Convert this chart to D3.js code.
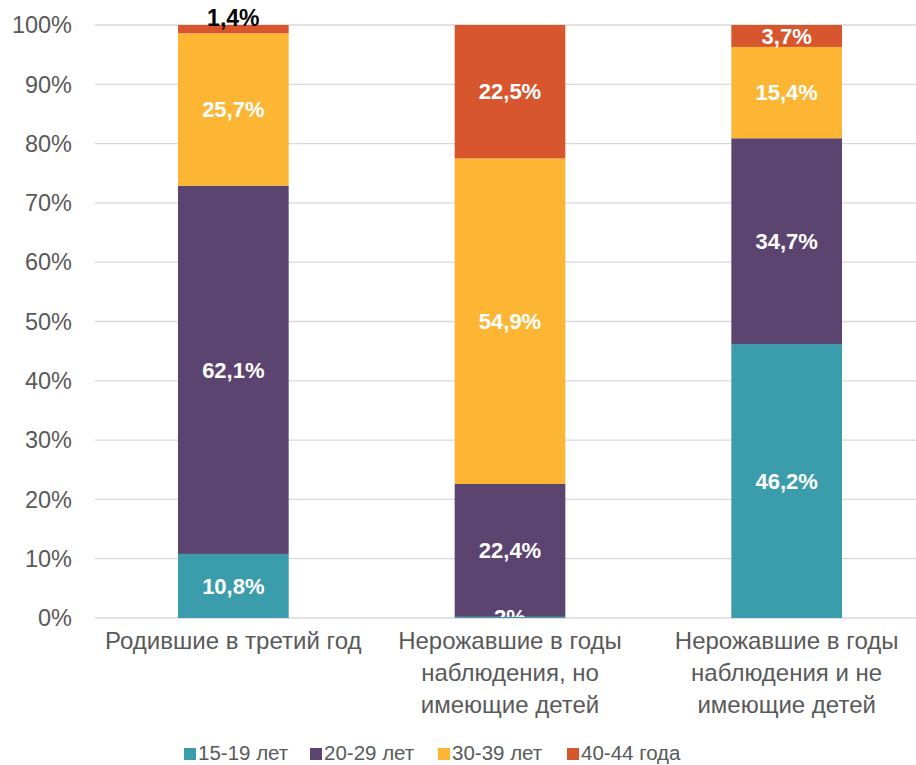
<!DOCTYPE html>
<html><head><meta charset="utf-8">
<script src="https://cdn.jsdelivr.net/npm/d3@7"></script>
<style>body{margin:0;background:#fff}svg{display:block}</style>
</head><body><svg id="c" width="916" height="765"></svg>
<script>
const categories = [
  ["Родившие в третий год"],
  ["Нерожавшие в годы", "наблюдения, но", "имеющие детей"],
  ["Нерожавшие в годы", "наблюдения и не", "имеющие детей"]
];
const seriesNames = ["15-19 лет", "20-29 лет", "30-39 лет", "40-44 года"];
const s1519 = [10.8, 0.2, 46.2];
const s2029 = [62.1, 22.4, 34.7];
const s3039 = [25.7, 54.9, 15.4];
const s4044 = [1.4, 22.5, 3.7];
const labelText = [
  ["10,8%", "2%", "46,2%"],
  ["62,1%", "22,4%", "34,7%"],
  ["25,7%", "54,9%", "15,4%"],
  ["1,4%", "22,5%", "3,7%"]
];
const yTicks = [0, 10, 20, 30, 40, 50, 60, 70, 80, 90, 100];
const colors = ["#3B9DAB", "#5C4470", "#FDB634", "#D8562D"];

const svg = d3.select("#c");
const font = "'Liberation Sans', Arial, sans-serif";
const L = 95, R = 925, T = 25, B = 618;
const x = d3.scaleBand().domain(d3.range(categories.length)).range([L, R]).padding(0);
const y = d3.scaleLinear().domain([0, 100]).range([B, T]);
const bw = x.bandwidth() * 0.4;

// gridlines
svg.append("g").selectAll("line").data(yTicks).join("line")
  .attr("x1", L).attr("x2", R)
  .attr("y1", d => y(d)).attr("y2", d => y(d))
  .attr("stroke", "#d9d9d9").attr("stroke-width", 1.3);

// y labels
svg.append("g").selectAll("text").data(yTicks).join("text")
  .attr("x", 72).attr("y", d => y(d)).attr("dy", "0.35em")
  .attr("text-anchor", "end").attr("font-family", font).attr("font-size", 23.5)
  .attr("fill", "#595959").text(d => d + "%");

const series = [s1519, s2029, s3039, s4044];
const data = categories.map((c, i) => {
  const o = {i};
  series.forEach((s, k) => o[k] = s[i]);
  return o;
});
const stack = d3.stack().keys(d3.range(series.length))(data);

svg.append("clipPath").attr("id", "pc").append("rect")
  .attr("x", 0).attr("y", 0).attr("width", 916).attr("height", B - 1);

const gb = svg.append("g");
stack.forEach((layer, k) => {
  gb.selectAll(null).data(layer).join("rect")
    .attr("x", (d, i) => x(i) + x.bandwidth() / 2 - bw / 2)
    .attr("width", bw)
    .attr("y", d => y(d[1]))
    .attr("height", d => y(d[0]) - y(d[1]))
    .attr("fill", colors[k]);
});

const gl = svg.append("g").attr("clip-path", "url(#pc)");
stack.forEach((layer, k) => {
  layer.forEach((d, i) => {
    const v = d[1] - d[0];
    let cy = y((d[0] + d[1]) / 2);
    let fill = "#fff";
    let fs = 22;
    if (k === series.length - 1 && v < 2) { cy = y(d[1]) - 7; fill = "#000"; fs = 23; }
    gl.append("text")
      .attr("x", x(i) + x.bandwidth() / 2).attr("y", cy).attr("dy", "0.35em")
      .attr("text-anchor", "middle").attr("font-family", font)
      .attr("font-size", fs).attr("font-weight", "bold").attr("fill", fill)
      .text(labelText[k][i]);
  });
});

// category labels
categories.forEach((lines, i) => {
  const t = svg.append("text").attr("text-anchor", "middle")
    .attr("font-family", font).attr("font-size", 24).attr("fill", "#595959");
  lines.forEach((ln, j) => {
    t.append("tspan").attr("x", x(i) + x.bandwidth() / 2)
      .attr("y", 649 + j * 32).text(ln);
  });
});

// legend
const legX = [184, 310, 438, 567];
const lg = svg.append("g");
seriesNames.forEach((n, k) => {
  lg.append("rect").attr("x", legX[k]).attr("y", 748).attr("width", 12).attr("height", 12)
    .attr("fill", colors[k]);
  lg.append("text").attr("x", legX[k] + 14).attr("y", 753).attr("dy", "0.35em")
    .attr("font-family", font).attr("font-size", 20.5).attr("fill", "#595959").text(n);
});
</script></body></html>
